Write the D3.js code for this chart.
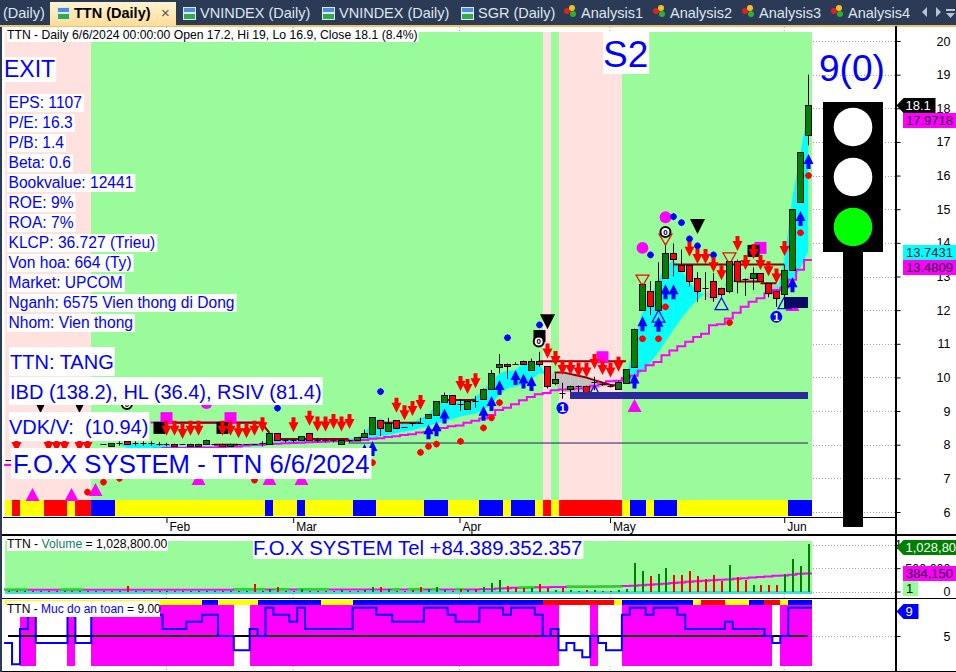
<!DOCTYPE html>
<html><head><meta charset="utf-8">
<script src="https://cdn.jsdelivr.net/npm/d3@7"></script>
<style>
html,body{margin:0;padding:0;background:#fff;overflow:hidden}
svg{display:block;font-family:"Liberation Sans",Arial,sans-serif}
</style></head><body><svg id="c" width="956" height="672"></svg>
<script>
// ---- DATA: every per-bar series is listed newest bar first (index = bars back from 6/6/2024)
const opens=[17.2,15.2,13.2,12.49,12.58,12.8,13.09,12.97,12.94,13.45,12.57,12.67,12.88,12.67,12.97,13.35,13.35,13.71,12.97,12.01,12.57,12.01,10.32,9.84,9.66,9.76,9.79,9.87,9.76,9.76,9.66,9.54,9.84,10.33,10.5,10.22,10.5,10.41,10.41,10.31,9.66,9.36,9.3,9.07,9.2,9.48,9.27,8.89,8.8,8.65,8.65,8.52,8.73,8.41,8.73,8.33,8.22,8.15,8.15,8.03,8.15,8.15,8.15,8.35,8.15,8.15,8.15,8.35,8.03,8.04,8.03,8.03,8.03,7.95,8.03,8.03,8.03,7.95,7.95,8.03,8.03,8.03,8.03,8.05,8.05,8.05,8.12,8.05,7.95,8.03,7.85,7.85,7.85,7.85,7.85,7.85,7.85,7.85,7.85,7.85,7.85,7.55];
const closes=[18.1,16.7,15.0,13.18,12.37,12.5,12.87,13.09,12.94,12.87,13.45,12.49,12.4,12.67,12.57,12.87,13.15,13.53,13.71,12.88,12.11,12.79,11.45,10.24,9.85,9.76,9.79,9.87,9.54,9.76,9.76,9.54,9.94,9.74,10.4,10.5,10.4,10.41,10.33,10.41,10.13,9.67,9.3,9.3,9.2,9.2,9.48,9.3,8.9,8.65,8.65,8.52,8.5,8.65,8.5,8.82,8.35,8.23,8.15,8.15,8.15,8.15,8.15,8.15,8.26,8.15,8.15,8.15,8.35,8.04,8.03,8.03,8.03,8.03,7.95,8.03,8.15,8.03,8.03,8.03,7.95,8.03,8.03,8.05,8.05,8.05,8.03,8.05,8.05,8.03,7.85,7.85,7.85,7.85,7.85,7.85,7.85,7.85,7.85,7.85,7.85,7.55];
const highs=[19,16.7,15.0,13.35,12.58,12.8,13.09,13.27,12.94,13.5,13.45,12.67,13.1,13.13,13.13,13.35,13.8,13.98,13.98,13.43,12.86,12.79,11.45,10.24,9.9,9.8,9.85,10.02,9.76,9.76,9.76,9.84,10.12,10.33,10.76,10.56,10.5,10.45,10.41,10.69,10.22,9.67,9.45,9.3,9.35,9.48,9.55,9.3,8.9,8.8,8.65,8.52,8.73,8.8,8.73,8.82,8.45,8.23,8.15,8.15,8.15,8.15,8.2,8.35,8.26,8.15,8.15,8.35,8.35,8.1,8.03,8.03,8.03,8.03,8.03,8.03,8.15,8.03,8.03,8.03,8.03,8.06,8.08,8.1,8.1,8.1,8.12,8.1,8.05,8.03,7.85,7.85,7.85,7.85,7.85,7.85,7.85,7.85,7.85,7.85,7.85,7.55];
const lows=[16.9,15.2,13.2,12.3,12.1,12.38,12.87,12.6,12.42,12.5,12.5,12.4,12.25,12.3,12.25,12.7,13.15,13.0,12.97,12.01,11.85,12.01,10.32,9.84,9.66,9.7,9.75,9.62,9.54,9.54,9.47,9.37,9.77,9.67,10.32,10.22,10.4,10.4,9.95,10.12,9.66,9.36,9.1,9.07,9.0,9.2,9.27,8.89,8.8,8.65,8.55,8.52,8.5,8.41,8.26,8.33,8.22,8.15,8.07,8.03,8.07,8.07,8.07,8.15,8.15,8.07,8.07,8.15,8.03,7.95,8.03,8.03,8.03,7.95,7.95,8.03,8.03,7.95,7.95,8.03,7.95,7.95,7.97,7.97,7.97,7.97,8.03,7.97,7.95,8.03,7.85,7.85,7.85,7.85,7.85,7.85,7.85,7.85,7.85,7.85,7.85,7.55];
const priceMA=[13.49,13.2,12.9,12.67,12.6,12.5,12.35,12.25,12.1,11.92,11.75,11.58,11.55,11.3,11.2,11.06,10.93,10.8,10.66,10.46,10.36,10.2,10.05,9.98,9.9,9.89,9.8,9.75,9.7,9.67,9.65,9.64,9.62,9.54,9.5,9.42,9.32,9.2,9.1,9.03,8.88,8.78,8.71,8.65,8.57,8.55,8.5,8.44,8.38,8.36,8.31,8.29,8.25,8.23,8.19,8.18,8.14,8.12,8.11,8.1,8.1,8.09,8.08,8.07,8.06,8.05,8.04,8.03,8.02,8.0,8.0,7.98,7.95,7.95,7.93,7.92,7.92,7.91,7.91,7.9,7.9,7.9,7.88,7.87,7.87,7.86,7.85,7.8,7.7,7.65,7.6,7.6,7.55,7.55,7.5,7.5,7.5,7.45,7.45,7.4,7.4,7.4];
const ribbonFast=[17.97,16.6,15.3,13.5,12.45,12.55,12.84,12.87,12.87,12.87,13.0,12.45,12.25,12.45,12.57,12.84,13.19,13.49,13.29,12.89,12.3,11.9,10.91,10.02,9.85,9.77,9.72,9.62,9.54,9.57,9.57,9.57,9.8,10.07,10.41,10.41,10.41,10.2,10.2,10.12,9.87,9.63,9.41,9.33,9.28,9.28,9.33,9.18,8.88,8.78,8.63,8.63,8.68,8.65,8.78,8.68,8.34,8.2,8.17,8.16,8.15,8.15,8.15,8.15,8.15,8.15,8.15,8.15,8.15,8.02,8.02,8.02,8.02,7.95,7.95,7.95,7.95,7.95,7.95,7.95,7.95,8.02,8.02,8.02,8.02,8.02,8.02,8.02];
const ribbonSlow=[13.74,13.24,12.85,12.7,12.75,12.78,12.88,13.04,12.94,12.85,12.8,12.6,12.6,12.5,12.3,12.05,11.75,11.41,11.06,10.71,10.41,10.17,9.92,9.87,9.85,9.79,9.82,9.87,9.97,10.02,10.07,10.12,10.12,10.1,10.12,9.92,9.77,9.72,9.67,9.47,9.18,9.03,8.93,8.88,8.83,8.75,8.68,8.63,8.55,8.49,8.42,8.4,8.34,8.29,8.26,8.19,8.16,8.13,8.13,8.12,8.1,8.07,8.07,8.07,8.07,8.07,8.07,8.07,8.07,7.95,7.95,7.95,7.95,7.9,7.9,7.9,7.9,7.9,7.9,7.9,7.9,7.9,7.9,7.9,7.9,7.9,7.9,8.02];
const volumes=[1028800,540000,705000,380000,150000,150000,150000,130000,237000,316000,560000,216000,345000,273000,324000,432000,345000,345000,510000,367000,324000,432000,604000,43000,40000,20000,10000,36000,30000,10000,40000,72000,36000,80000,165000,72000,80000,72000,122000,250000,187000,107000,64000,36000,64000,20000,36000,86000,64000,86000,36000,20000,10000,43000,86000,86000,36000,21000,21000,36000,21000,21000,21000,21000,64000,21000,12000,86000,64000,21000,170000,12000,20000,12000,14000,12000,16000,14000,18000,14000,20000,12000,16000,14000,20000,14000,125000,14000,20000,18000,12000,14000,16000,12000,14000,12000,16000,12000,14000,16000,12000,14000];
const volumeUp=[1,1,1,1,0,0,0,1,0,0,1,0,0,0,0,0,0,0,1,1,0,1,1,1,1,0,0,1,0,1,1,0,1,0,0,1,0,0,0,1,1,1,0,1,0,0,1,1,1,0,0,0,0,1,0,1,1,1,0,1,0,0,0,0,1,0,0,0,1,0,0,1,0,1,0,1,1,1,1,0,0,1,0,1,0,1,0,1,0,0,1,0,1,0,1,0,0,1,0,1,0,1];
const volumeMA=[384150,378000,360000,345000,335000,324000,312000,300000,285000,272000,259000,250000,240000,228000,218000,209000,195000,182000,168000,155000,144000,135000,125000,118000,112000,108000,105000,104000,102000,101000,100000,98000,95000,92000,90000,86000,82000,78000,72000,64000,50000,46000,44000,44000,43000,43000,43000,43000,43000,43000,43000,43000,42000,42000,42000,42000,42000,42000,42000,42000,42000,42000,42000,42000,42000,42000,42000,42000,42000,42000,42000,42000,42000,40000,40000,40000,40000,40000,40000,40000,40000,40000,40000,40000,40000,40000,40000,40000,40000,40000,38000,38000,38000,38000,38000,36000,36000,36000,36000,36000,36000,36000];
// chronological runs [value, number of bars], oldest first
const signalRibbon=[["y",1],["r",1],["y",3],["r",3],["y",1],["r",2],["b",3],["y",19],["b",1],["y",3],["b",1],["y",6],["b",3],["y",6],["b",3],["y",4],["b",3],["y",1],["b",3],["y",1],["r",1],["y",1],["r",8],["y",1],["b",2],["y",1],["b",3],["y",14],["b",3]];
const safetyRibbon=[["y",25],["b",2],["y",5],["b",8],["y",4],["b",24],["r",9],["y",1],["b",9],["y",1],["r",3],["y",3],["b",2],["r",2],["y",1],["b",3]];
const safetyRuns=[[4,1],[1,1],[6,1],[8,1],[4,4],[8,1],[4,2],[8,9],[6,3],[7,2],[8,2],[5,2],[3,2],[6,1],[5,1],[9,1],[8,2],[7,1],[9,1],[6,6],[9,3],[8,2],[7,4],[9,3],[8,1],[7,3],[9,3],[8,1],[9,3],[8,1],[5,1],[6,1],[3,1],[4,1],[3,1],[2,1],[5,1],[4,1],[3,2],[8,1],[9,2],[8,1],[9,3],[8,1],[6,5],[7,1],[6,4],[5,1],[4,1],[5,1],[9,3]];
// background: [first bar back, last bar back, state]
const regimeSpans=[[101,91,"exit"],[90,34,"hold"],[33,33,"exit"],[32,32,"hold"],[31,24,"exit"],[23,0,"hold"]];
// markers: [bar back, price]
const redArrows=[[33,10.56],[32,10.34],[31,10.07],[30,10.07],[29,10.0],[28,10.0],[27,10.25],[26,10.07],[25,10.0],[24,10.17],[15,13.59],[14,13.37],[13,13.37],[12,13.13],[11,12.89],[9,13.76],[8,13.19],[7,13.52],[6,13.19],[5,13.01],[4,12.79],[3,13.61],[52,8.95],[51,8.73],[50,8.85],[49,9.03],[44,9.6],[43,9.51],[42,9.68],[81,8.27],[80,8.27],[79,8.17],[78,8.27],[77,8.27],[74,8.27],[73,8.27],[72,8.19],[71,8.19],[70,8.27],[69,8.37],[65,8.37],[63,8.56],[62,8.39],[61,8.39],[60,8.47],[59,8.39],[58,8.47],[100,7.78],[96,7.78],[95,7.78],[94,7.78],[92,7.78],[91,7.78]];
const blueArrows=[[41,9.16],[40,9.45],[39,9.92],[37,10.22],[36,10.12],[35,10.04],[22,10.12],[21,11.82],[19,11.8],[18,12.77],[17,12.77],[2,12.98],[1,14.95],[0,16.64],[48,8.61],[47,8.7],[46,9.08],[55,8.11],[56,8.02]];
const redDots=[[0,16],[1,14.3],[10,11.63],[18,12.1],[19,11.15],[21,11.15],[39,9.25],[40,8.8],[41,8.5],[44,8.1],[47,8.02],[48,7.95],[49,7.77],[55,7.47],[70,6.95],[87,7.0],[89,6.89],[91,6.59]];
const blueDots=[[12,13.64],[14,13.91],[15,14.12],[16,14.6],[17,14.78],[20,13.64],[34,11.56],[38,11.18],[54,9.58],[67,9.09]];
const blackSquares=[[82,8.5],[74,8.5],[7,13.76],[34,11.23]];
const magentaSquares=[[81,8.79],[73,8.79],[6,13.85],[26,10.6]];
const magentaCircles=[[18,14.76],[21,13.85],[76,9.24]];
const magentaTriangles=[[22,9.36],[2,12.36],[98,6.71],[93,6.71],[90,6.86],[77,7.19],[68,7.19],[64,7.19]];
const blackTriangles=[[14,14.71],[33,11.88],[97,9.39],[92,9.39]];
const hollowRedTriangles=[[21,13.04],[18,14.26],[10,13.7]];
const hollowBlueTriangles=[[19,12.0],[11,12.37],[3,12.4],[27,9.77]];
const ringMarks=[[18,14.32],[34,11.07],[86,9.21]];
const blueMarks=[[4,11.8],[31,9.09]];
// [from bar, to bar, price]
const supportLines=[[17,3,13.36],[9,6,12.85],[6,4,12.8],[34,23,10.48],[54,49,8.65],[46,42,9.33],[81,69,8.65],[67,58,8.17],[75,72,8.0]];
const fallingLine=[[32,10.15],[31,10.15],[30,10.1],[29,10.05],[28,10.0],[27,9.92],[26,9.85],[25,9.78],[24,9.75]];
const zoneBars=[[30,0,9.57,9.36,"#2b2b9c"],[3,0,12.39,12.06,"#0a0a66"]];
const limeSpans=[[101,99],[94,92],[72,71],[70,69],[67,66],[64,61],[52,52],[50,49],[47,47],[44,44],[36,35],[30,24]];
const priceTicks=[6,7,8,9,10,11,12,13,14,15,16,17,18,19,20];
const volumeTicks=[0,500000,1000000];
const monthTicks=[[81,"Feb"],[65,"Mar"],[44,"Apr"],[25,"May"],[3,"Jun"]];
const stats=["EPS: 1107","P/E: 16.3","P/B: 1.4","Beta: 0.6","Bookvalue: 12441","ROE: 9%","ROA: 7%","KLCP: 36.727 (Trieu)","Von hoa: 664 (Ty)","Market: UPCOM","Nganh: 6575 Vien thong di Dong","Nhom: Vien thong"];
const tabLabels=[["VNINDEX (Daily)",200],["VNINDEX (Daily)",339],["SGR (Daily)",478]];
const analysisTabs=[["Analysis1",581],["Analysis2",670],["Analysis3",759],["Analysis4",848]];
const lamps=["#ffffff","#ffffff","#00ff00"];

// ---- scales
const x=d3.scaleLinear().domain([101,0]).range([8.08,808]);
const y=d3.scaleLinear().domain([6,20]).range([512,41]);
const yV=d3.scaleLinear().domain([0,1028800]).range([591.5,543.5]);
const yS=d3.scaleLinear().domain([5,9]).range([636,607.7]);
const bw=7.92;
const BLUE="#0000ff",MAG="#ff00ff";
const svg=d3.select("#c");
const codes={y:"#ffff00",r:"#ff0000",b:"#0000ff"};
const expand=r=>r.flatMap(([v,n])=>d3.range(n).map(()=>v));
const rect=(g,l,t,w,h,f)=>g.append("rect").attr("x",l).attr("y",t).attr("width",w).attr("height",h).attr("fill",f).attr("shape-rendering","crispEdges");
// bar-wide column clipped to the left edge of the panes
const col=(g,k,t,h,f)=>{const l=Math.max(5,x(k)-bw/2);return rect(g,l,t,x(k)+bw/2-l,h,f);};

// ---- tab strip
const tabs=svg.append("g");
rect(tabs,0,0,956,25,"#2c3b55");
rect(tabs,0,25,956,2,"#edc36a");
rect(tabs,0,27,2,645,"#2c3b55");
const grad=svg.append("defs").append("linearGradient").attr("id","tg").attr("x1",0).attr("x2",0).attr("y1",0).attr("y2",1);
grad.append("stop").attr("offset",0).attr("stop-color","#fff3d0");
grad.append("stop").attr("offset",1).attr("stop-color","#ffdc98");
rect(tabs,50,2,126,24,"url(#tg)");
const tabText=(s,px,w,c)=>tabs.append("text").attr("x",px).attr("y",18).attr("font-size",14.5).attr("font-weight",w).attr("fill",c).text(s);
tabText("(Daily)",3,400,"#dfe6ef");
tabText("TTN (Daily)",74,700,"#000");
tabs.append("text").attr("x",161).attr("y",18).attr("font-size",15).attr("fill","#555").text("×");
const chartIcon=px=>{rect(tabs,px,7,13,13,"#dce8f8");rect(tabs,px+1,14,11,5,"#35a84a");rect(tabs,px+1,8,11,4,"#4a90e0");};
[57].concat(tabLabels.map(d=>d[1]-17)).forEach(chartIcon);
tabLabels.forEach(d=>tabText(d[0],d[1],400,"#dfe6ef"));
analysisTabs.forEach(d=>{
  [["#e02020",-14,11],["#f0c020",-9,8],["#30b030",-8,14]].forEach(c=>tabs.append("circle").attr("cx",d[1]+c[1]).attr("cy",c[2]).attr("r",3).attr("fill",c[0]));
  tabText(d[0],d[1],400,"#dfe6ef");
});
tabs.append("path").attr("d","M927 7 L922 12 L927 17Z M936 7 L941 12 L936 17Z M946 9 h9 v2 h-9Z M946 13 L955 13 L950.5 18Z").attr("fill","#b8c4d4");

// ---- price pane background
const regime=svg.append("g");
regimeSpans.forEach(([a,b,s])=>{const l=Math.max(5,x(a)-bw/2);rect(regime,l,32,x(b)+bw/2-l,484,s==="exit"?"#ffe2df":"#99fb99");});
expand(signalRibbon).forEach((c,i)=>col(regime,101-i,500,16,codes[c]));

// gridlines outside the bars
const grid=svg.append("g").attr("stroke","#a8a8a8").attr("stroke-dasharray","1 2");
priceTicks.forEach(t=>grid.append("line").attr("x1",813).attr("x2",895).attr("y1",Math.round(y(t))+.5).attr("y2",Math.round(y(t))+.5));
volumeTicks.forEach(t=>grid.append("line").attr("x1",813).attr("x2",895).attr("y1",Math.round(yV(t))+.5).attr("y2",Math.round(yV(t))+.5));
grid.append("line").attr("x1",813).attr("x2",895).attr("y1",636.5).attr("y2",636.5);
monthTicks.forEach(([k])=>{[[27,32],[594,598],[666,671]].forEach(([a,b])=>grid.append("line").attr("x1",x(k)).attr("x2",x(k)).attr("y1",a).attr("y2",b));});

// ---- ribbon between fast and slow lines
const ribbon=svg.append("g");
ribbonFast.forEach((f,k)=>{
  if(k+1>=ribbonFast.length) return;
  const d=(f-ribbonSlow[k])+(ribbonFast[k+1]-ribbonSlow[k+1]);
  ribbon.append("path").attr("fill",d>=0?"#00ffff":"#c0c0c0")
    .attr("d",`M${x(k)} ${y(f)}L${x(k+1)} ${y(ribbonFast[k+1])}L${x(k+1)} ${y(ribbonSlow[k+1])}L${x(k)} ${y(ribbonSlow[k])}Z`);
});
// ---- MA
const stepLine=(vals,sy)=>d3.line().curve(d3.curveStepAfter).x(d=>x(d[0])).y(d=>sy(d[1]))(
  d3.range(vals.length-1,-1,-1).map(k=>[k+.5,vals[k]]).concat([[-.5,vals[0]]]));
svg.append("path").attr("d",stepLine(priceMA,y)).attr("fill","none").attr("stroke",MAG).attr("stroke-width",2);
svg.append("line").attr("x1",x(83)).attr("x2",x(69)).attr("y1",y(8.66)).attr("y2",y(8.66)).attr("stroke",MAG).attr("stroke-width",2);
// ---- support lines
const sup=svg.append("g").attr("stroke","#8b0000").attr("stroke-width",2).attr("fill","none");
supportLines.forEach(([a,b,p])=>sup.append("line").attr("x1",x(a)).attr("x2",x(b)).attr("y1",y(p)).attr("y2",y(p)));
sup.append("path").attr("d",d3.line().x(d=>x(d[0])).y(d=>y(d[1]))(fallingLine));
sup.append("path").attr("d",`M${x(69)} ${y(8.65)}L${x(68)} ${y(8.35)}`);
svg.append("line").attr("x1",x(58)).attr("x2",808).attr("y1",y(8.05)).attr("y2",y(8.05)).attr("stroke","#22225f");

// ---- candles
const candles=svg.append("g");
opens.forEach((o,k)=>{
  const c=closes[k],cx=Math.round(x(k))+.5;
  candles.append("line").attr("x1",cx).attr("x2",cx).attr("y1",y(highs[k])).attr("y2",y(lows[k])).attr("stroke","#000");
  if(Math.abs(o-c)<0.005){
    candles.append("line").attr("x1",cx-3).attr("x2",cx+3).attr("y1",Math.round(y(c))+.5).attr("y2",Math.round(y(c))+.5).attr("stroke","#000");
  } else {
    const t=Math.round(y(Math.max(o,c))),b=Math.round(y(Math.min(o,c)));
    candles.append("rect").attr("x",cx-3).attr("y",t+.5).attr("width",6).attr("height",Math.max(b-t,1))
      .attr("fill",c>o?"#008000":"#ff0000").attr("stroke","#000").attr("shape-rendering","crispEdges");
  }
});

// ---- markers
const marks=svg.append("g");
const at=(k,p)=>`translate(${Math.round(x(k))+.5},${y(p)})`;
const each=(list,path,fill,stroke)=>list.forEach(([k,p])=>marks.append("path").attr("d",path).attr("transform",at(k,p)).attr("fill",fill).attr("stroke",stroke||"none").attr("stroke-width",1.2));
const diamond="M0 -3.6L2.4 -2.4L3.6 0L2.4 2.4L0 3.6L-2.4 2.4L-3.6 0L-2.4 -2.4Z";
each(magentaTriangles,"M0 0L7 13L-7 13Z",MAG);
each(magentaSquares,"M-6 -6H6V6H-6Z",MAG);
each(magentaCircles,d3.symbol(d3.symbolCircle,110)(),MAG);
each(blackSquares,"M-6 -6H6V6H-6Z","#000");
each(redDots,diamond,"#ff0000");
each(blueDots,diamond,BLUE);
each(blackTriangles,"M-7.5 0H7.5L0 15Z","#000");
each(hollowRedTriangles,"M-6.5 0H6.5L0 11Z","none","#ff0000");
each(hollowBlueTriangles,"M0 0L6.5 12H-6.5Z","none",BLUE);
each(blueArrows,"M0 0L5 10H2V15H-2V10H-5Z",BLUE);
each(redArrows,"M0 0L5 -10H2V-15H-2V-10H-5Z","#ff0000");
ringMarks.forEach(([k,p])=>{
  marks.append("circle").attr("cx",x(k)).attr("cy",y(p)).attr("r",5).attr("fill","#fff").attr("stroke","#000").attr("stroke-width",2);
  marks.append("text").attr("x",x(k)).attr("y",y(p)+3).attr("text-anchor","middle").attr("font-size",8).attr("font-weight",700).text("0");
});
blueMarks.forEach(([k,p])=>{
  marks.append("circle").attr("cx",x(k)).attr("cy",y(p)).attr("r",6).attr("fill",BLUE);
  marks.append("text").attr("x",x(k)).attr("y",y(p)+4).attr("text-anchor","middle").attr("font-size",11).attr("font-weight",700).attr("fill","#fff").text("1");
});
zoneBars.forEach(([a,b,t,bot,f])=>rect(marks,x(a),y(t),x(b)-x(a),y(bot)-y(t),f));

// ---- traffic light
const tl=svg.append("g");
rect(tl,843,250,20,277,"#000");
rect(tl,823,102,60,150,"#000");
lamps.forEach((c,i)=>tl.append("circle").attr("cx",853).attr("cy",127+50*i).attr("r",19.3).attr("fill",c));
svg.append("text").attr("x",819).attr("y",81).attr("font-size",37).attr("fill",BLUE).text("9(0)");

// ---- axes
const monthAxis=d3.axisBottom(x).tickValues(monthTicks.map(d=>d[0])).tickFormat(k=>monthTicks.find(m=>m[0]===k)[1]).tickSize(6).tickPadding(-2);
const gx=svg.append("g").attr("transform","translate(0,517)").call(monthAxis);
gx.select(".domain").remove();
gx.selectAll("text").attr("text-anchor","start").attr("x",2.5).attr("font-size",12).attr("font-family","Liberation Sans").attr("fill","#000").attr("dy","0.82em");
const styleY=g=>{g.select(".domain").remove();
  g.selectAll("text").attr("text-anchor","end").attr("x",55).attr("font-size",12.5).attr("font-family","Liberation Sans").attr("fill","#000");};
svg.append("g").attr("transform","translate(895.5,0)").call(d3.axisRight(y).tickValues(priceTicks).tickFormat(d3.format("d")).tickSize(5)).call(styleY);
svg.append("g").attr("transform","translate(895.5,0)").call(d3.axisRight(yV).tickValues(volumeTicks).tickFormat(d3.format(",")).tickSize(5)).call(styleY);
svg.append("g").attr("transform","translate(895.5,0)").call(d3.axisRight(yS).tickValues([5]).tickFormat(d3.format("d")).tickSize(5)).call(styleY);

const frame=svg.append("g");
rect(frame,3,517,892,1,"#000");
rect(frame,2,534,954,1.5,"#000");
rect(frame,2,597.5,954,1.5,"#000");
rect(frame,2,670.5,954,1.5,"#000");
rect(frame,895,26,1.5,646,"#000");

// ---- volume pane
const vol=svg.append("g");
rect(vol,5,541,807,52,"#99fb99");
rect(vol,5,591,807,2.5,"#40e0d0");
vol.append("path").attr("d",stepLine(volumeMA,yV)).attr("fill","none").attr("stroke",MAG).attr("stroke-width",2);
limeSpans.forEach(([a,b])=>vol.append("line").attr("x1",x(a)-4).attr("x2",x(b)+4).attr("y1",yV(volumeMA[a]+8000)).attr("y2",yV(volumeMA[a]+8000)).attr("stroke","#00f000").attr("stroke-width",2));
volumes.forEach((v,k)=>rect(vol,Math.round(x(k))-.5,yV(v),2,yV(0)-yV(v),volumeUp[k]?"#008000":"#ff0000"));

// ---- safety pane
const safe=svg.append("g");
const levels=expand(safetyRuns);
levels.forEach((v,i)=>{ if(v>=5) col(safe,101-i,605,60.7,MAG); });
expand(safetyRibbon).forEach((c,i)=>col(safe,101-i,599.5,5.5,codes[c]));
safe.append("line").attr("x1",8).attr("x2",808).attr("y1",636).attr("y2",636).attr("stroke","#000").attr("stroke-width",2);
const byBack=levels.slice().reverse();
safe.append("path").attr("d",stepLine(byBack,yS)).attr("fill","none").attr("stroke",BLUE).attr("stroke-width",2);

// ---- value tags
const tags=svg.append("g");
const tag=(l,t,w,h,fill,txt,tc,arrow)=>{
  if(arrow) tags.append("path").attr("d",`M${l} ${t+h/2}L${l+7} ${t}H${l+w}V${t+h}H${l+7}Z`).attr("fill",fill);
  else rect(tags,l,t,w,h,fill);
  tags.append("text").attr("x",l+(arrow?9:3)).attr("y",t+h/2+4.5).attr("font-size",13).attr("fill",tc).text(txt);
};
tag(896.5,98,39,15,"#000","18.1","#fff",true);
tag(903,113,53,15,MAG,"17.9718","#200030");
tag(903,245,53,15,"#00ffff","13.7431","#102030");
tag(903,260,53,15,MAG,"13.4809","#200030");
tag(896.5,540,60,15,"#008000","1,028,800","#fff",true);
tag(903,566,53,15,MAG,"384,150","#200030");
tag(903,581,15,15,"#99fb99","1","#002000");
tag(896.5,604,22,15,BLUE,"9","#fff",true);

// ---- text boxes
const labels=svg.append("g");
const box=(l,t,h,txt,size,color,padL,padR,baseline)=>{
  const g=labels.append("g");
  const r=g.append("rect").attr("y",t).attr("height",h).attr("x",l).attr("fill","#fff");
  const tx=g.append("text").attr("x",l+padL).attr("y",baseline).attr("font-size",size).attr("fill",color).attr("xml:space","preserve").style("white-space","pre").text(txt);
  r.attr("width",tx.node().getComputedTextLength()+padL+padR);
  return tx;
};
box(7,28,14,"TTN - Daily 6/6/2024 00:00:00 Open 17.2, Hi 19, Lo 16.9, Close 18.1 (8.4%)",12.2,"#000",0,1,39);
box(603,32,42,"S2",37,BLUE,0,1,67);
box(5,57,25,"EXIT",23,BLUE,-1,1,77);
stats.forEach((s,i)=>box(7,94+20*i,18,s,15.6,BLUE,1.5,2,108+20*i));
box(9,347,29,"TTN: TANG",20,BLUE,1,1,369);
box(9,377,28,"IBD (138.2), HL (36.4), RSIV (81.4)",20,BLUE,1,1,399);
box(9,412,29,"VDK/V:  (10.94)",20,BLUE,0,1,434);
box(11,448,31,"F.O.X SYSTEM - TTN 6/6/2024",25.7,BLUE,2,2,473);
const vl=labels.append("g");
rect(vl,7,537,161,14,"#fff");
const vt=vl.append("text").attr("x",7).attr("y",548).attr("font-size",12.2);
vt.append("tspan").attr("fill","#000").text("TTN - ");
vt.append("tspan").attr("fill","#108060").text("Volume");
vt.append("tspan").attr("fill","#000").text(" = 1,028,800.00");
box(253,538,21,"F.O.X SYSTEM Tel +84.389.352.357",20.3,BLUE,0,1,555);
const sl=labels.append("g");
rect(sl,7,601,153,16,"#fff");
const st=sl.append("text").attr("x",7).attr("y",613).attr("font-size",12);
st.append("tspan").attr("fill","#000").text("TTN - ");
st.append("tspan").attr("fill",BLUE).text("Muc do an toan");
st.append("tspan").attr("fill","#000").text(" = 9.00");
</script></body></html>
